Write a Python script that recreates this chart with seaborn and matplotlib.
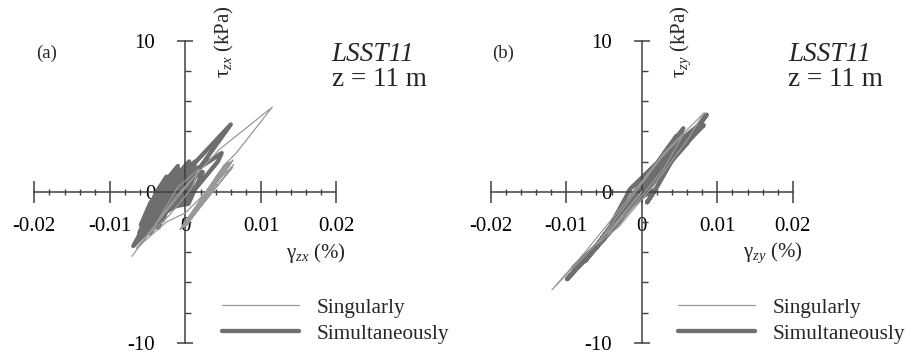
import matplotlib
matplotlib.use("Agg")
import matplotlib.pyplot as plt
from matplotlib.ticker import FixedLocator, MultipleLocator
import pandas as pd
import seaborn as sns

# Turning points of the shear stress-strain loops at z = 11 m
# (shear strain in %, shear stress in kPa)
zx_single_gamma = [-0.0071, -0.0035, 0.0012, 0.0045, 0.0115, 0.0067, 0.0052,
                   -0.0007, 0.0052, -0.0004, 0.0056, -0.0001, 0.0060, 0.0002, 0.0063,
                   0.0004, 0.0062, -0.0005, 0.0054, -0.0002, 0.0058, 0.0001, 0.0061,
                   0.0003, 0.0064, 0.0000, -0.0025, -0.0065, -0.0040, -0.0010, 0.0018,
                   0.0008, -0.0022, -0.0050, -0.0012, 0.0010]
zx_single_tau = [-4.28, -1.9, 1.0, 2.8, 5.6, 2.54, 1.8,
                 -2.5, 1.8, -2.4, 1.9, -2.3, 1.9, -2.2, 2.1,
                 -2.0, 1.6, -2.45, 1.85, -2.35, 1.95, -2.25, 2.0,
                 -2.1, 1.8, -1.4, -2.0, -3.75, -2.2, 0.3, 1.5,
                 0.2, -1.6, -2.9, -0.3, 0.9]

zx_simul_gamma = [-0.0045, -0.0031, 0.0013, -0.0001,
                  -0.0055, -0.0034, 0.0009, -0.0010,
                  -0.0069, -0.0043, 0.0001, -0.0023,
                  -0.0042, -0.0029, 0.0020, -0.0009,
                  -0.0047, -0.0012, 0.0060, 0.0012,
                  -0.0059, -0.0046, -0.0017, -0.0030,
                  -0.0035, -0.0026, 0.0000, -0.0008,
                  -0.0040, -0.0005, 0.0048, 0.0043, 0.0015,
                  -0.0029, -0.0019, 0.0008, -0.0003,
                  -0.0061, -0.0045, -0.0015, -0.0031,
                  -0.0052, -0.0037, 0.0005, -0.0012,
                  -0.0038, -0.0022, 0.0016, 0.0002,
                  -0.0044, -0.0033, -0.0010, -0.0018,
                  -0.0030, -0.0015, 0.0023, 0.0004,
                  -0.0050, -0.0038, -0.0025, -0.0028,
                  -0.0036, -0.0024, -0.0006, -0.0014,
                  -0.0050, -0.0038, -0.0008, -0.0020, -0.0045]
zx_simul_tau = [-2.0, 0.0, 2.0, 0.0,
                -2.5, -0.45, 1.6, -0.45,
                -3.6, -1.2, 1.2, -1.2,
                -1.8, -0.2, 1.35, -0.2,
                -2.75, 0.6, 4.45, 1.1,
                -2.2, -0.7, 0.8, -0.7,
                -2.0, -0.15, 1.7, -0.15,
                -2.3, 0.8, 2.56, 2.0, 0.3,
                -1.5, -0.25, 1.0, -0.25,
                -2.7, -1.1, 0.5, -1.1,
                -2.4, -0.3, 2.0, 0.2,
                -2.1, 0.3, 1.6, -0.6,
                -1.6, 0.3, 1.7, -0.4,
                -1.9, 0.5, 1.3, -0.8,
                -1.3, 0.0, 1.0, -0.9,
                -2.4, -0.9, 1.3, -1.0,
                -1.9, -0.6, 1.4, 0.2, -2.0]

zy_single_gamma = [0.0000, -0.0040, -0.0119, -0.0075, -0.0020, 0.0030, 0.0083, 0.0060, 0.0020, -0.0030,
                   -0.0060, -0.0020, 0.0025, 0.0055, 0.0030, -0.0010, -0.0045, 0.0000]
zy_single_tau = [0.0, -2.4, -6.5, -4.0, -0.6, 2.6, 5.25, 3.4, 0.7, -2.3,
                 -3.5, -0.8, 2.2, 3.8, 1.6, -0.9, -2.8, 0.0]

zy_simul_gamma = [0.0000, 0.0030, 0.0046, 0.0020, -0.0030, -0.0060, -0.0099, -0.0070, -0.0030, 0.0010,
                  0.0050, 0.0086, 0.0060, 0.0020, -0.0020, -0.0050, -0.0091, -0.0060, -0.0020, 0.0030,
                  0.0065, 0.0082, 0.0045, 0.0018, 0.0007, 0.0018, -0.0010, -0.0040, -0.0015, 0.0020,
                  0.0055, 0.0035, 0.0000, -0.0035, -0.0075, -0.0045, -0.0005, 0.0040, 0.0073, 0.0040,
                  0.0005, -0.0025, -0.0012, 0.0015]
zy_simul_tau = [0.0, 2.6, 3.7, 1.2, -2.0, -3.7, -5.8, -4.2, -1.6, 0.6,
                2.9, 5.1, 3.2, 0.9, -1.2, -3.1, -5.05, -3.6, -0.8, 2.0,
                3.9, 4.4, 2.5, 0.13, -0.7, 0.13, -0.6, -2.1, 0.2, 1.9,
                4.2, 2.2, 0.0, -1.9, -4.6, -2.8, 0.3, 3.0, 4.3, 2.1,
                -0.1, -1.5, -0.2, 1.4]

series_labels = ["Singularly", "Simultaneously"]
x_ticks = [-0.02, -0.01, 0.0, 0.01, 0.02]
x_tick_labels = ["-0.02", "-0.01", "0", "0.01", "0.02"]
y_ticks = [-10, 0, 10]
y_tick_labels = ["-10", "0", "10"]
panel_tags = ["(a)", "(b)"]
test_name = "LSST11"
depth_text = "z = 11 m"
tau_labels = [r"τ$_{zx}$ (kPa)", r"τ$_{zy}$ (kPa)"]
gamma_labels = [r"γ$_{zx}$ (%)", r"γ$_{zy}$ (%)"]

sns.set_theme(style="white")
plt.rcParams["font.family"] = ["Liberation Serif", "DejaVu Serif"]
plt.rcParams["mathtext.fontset"] = "custom"
plt.rcParams["mathtext.rm"] = "Liberation Serif"
plt.rcParams["mathtext.it"] = "Liberation Serif:italic"
plt.rcParams["axes.unicode_minus"] = False

W, H = 906, 360
fig = plt.figure(figsize=(W / 100, H / 100), dpi=100)
fig.patch.set_facecolor("white")

AXIS = "#404040"
THIN = "#999999"
THICK = "#6e6e6e"


def frame(g, t):
    return pd.DataFrame({"gamma": g, "tau": t})


def fx(px):
    return px / W


def fy(py):
    return 1 - py / H


def draw_panel(left_px, single, simul, tag, tau_lab, gam_lab):
    ax = fig.add_axes([fx(left_px), fy(342.7), 302.2 / W, 302.0 / H])
    ax.set_facecolor("none")
    sns.lineplot(data=frame(*simul), x="gamma", y="tau", sort=False, estimator=None,
                 color=THICK, linewidth=3.1, solid_joinstyle="round", solid_capstyle="round",
                 ax=ax, label=series_labels[1], zorder=2)
    sns.lineplot(data=frame(*single), x="gamma", y="tau", sort=False, estimator=None,
                 color=THIN, linewidth=0.9, ax=ax, label=series_labels[0], zorder=3)

    ax.set_xlim(-0.02, 0.02)
    ax.set_ylim(-10, 10)
    ax.set_xlabel("")
    ax.set_ylabel("")
    for s in ["top", "right"]:
        ax.spines[s].set_visible(False)
    for s in ["left", "bottom"]:
        ax.spines[s].set_position(("data", 0))
        ax.spines[s].set_color(AXIS)
        ax.spines[s].set_linewidth(1.1)

    ax.xaxis.set_major_locator(FixedLocator(x_ticks))
    ax.set_xticklabels(x_tick_labels)
    ax.xaxis.set_minor_locator(MultipleLocator(0.002))
    ax.yaxis.set_major_locator(FixedLocator(y_ticks))
    ax.set_yticklabels(y_tick_labels)
    ax.yaxis.set_minor_locator(MultipleLocator(2))
    ax.tick_params(bottom=True, left=True, which="both", color=AXIS)
    ax.tick_params(axis="x", which="major", direction="inout", length=16, width=1.1,
                   pad=10.5, labelsize=15, labelcolor="black")
    ax.tick_params(axis="x", which="minor", direction="inout", length=5, width=1.0)
    ax.tick_params(axis="y", which="major", direction="inout", length=11.5, width=1.1,
                   pad=16, labelsize=15, labelcolor="black")
    ax.tick_params(axis="y", which="minor", direction="in", length=4.5, width=1.0)

    handles, labels = ax.get_legend_handles_labels()
    order = [labels.index(series_labels[0]), labels.index(series_labels[1])]
    ax.legend([handles[i] for i in order], [labels[i] for i in order],
              loc="upper left", bbox_to_anchor=(fx(left_px + 187.7), fy(298)),
              bbox_transform=fig.transFigure, frameon=False, borderpad=0,
              borderaxespad=0, handlelength=3.6, handletextpad=0.85,
              labelspacing=0.28, fontsize=15.3)

    fig.text(fx(left_px + 12.7), fy(53), tag, fontsize=13.5, ha="center", va="center")
    fig.text(fx(left_px + 297.5), fy(61), test_name, fontsize=19.5, style="italic",
             ha="left", va="baseline")
    fig.text(fx(left_px + 297.5), fy(86), depth_text, fontsize=19.5, ha="left", va="baseline")
    fig.text(fx(left_px + 190.5), fy(42), tau_lab, fontsize=15, rotation=90,
             ha="center", va="center")
    fig.text(fx(left_px + 282), fy(253), gam_lab, fontsize=15, ha="center", va="center")
    return ax


draw_panel(34.3, (zx_single_gamma, zx_single_tau), (zx_simul_gamma, zx_simul_tau),
           panel_tags[0], tau_labels[0], gamma_labels[0])
draw_panel(490.7, (zy_single_gamma, zy_single_tau), (zy_simul_gamma, zy_simul_tau),
           panel_tags[1], tau_labels[1], gamma_labels[1])

fig.savefig("out.png", dpi=100, facecolor="white")
